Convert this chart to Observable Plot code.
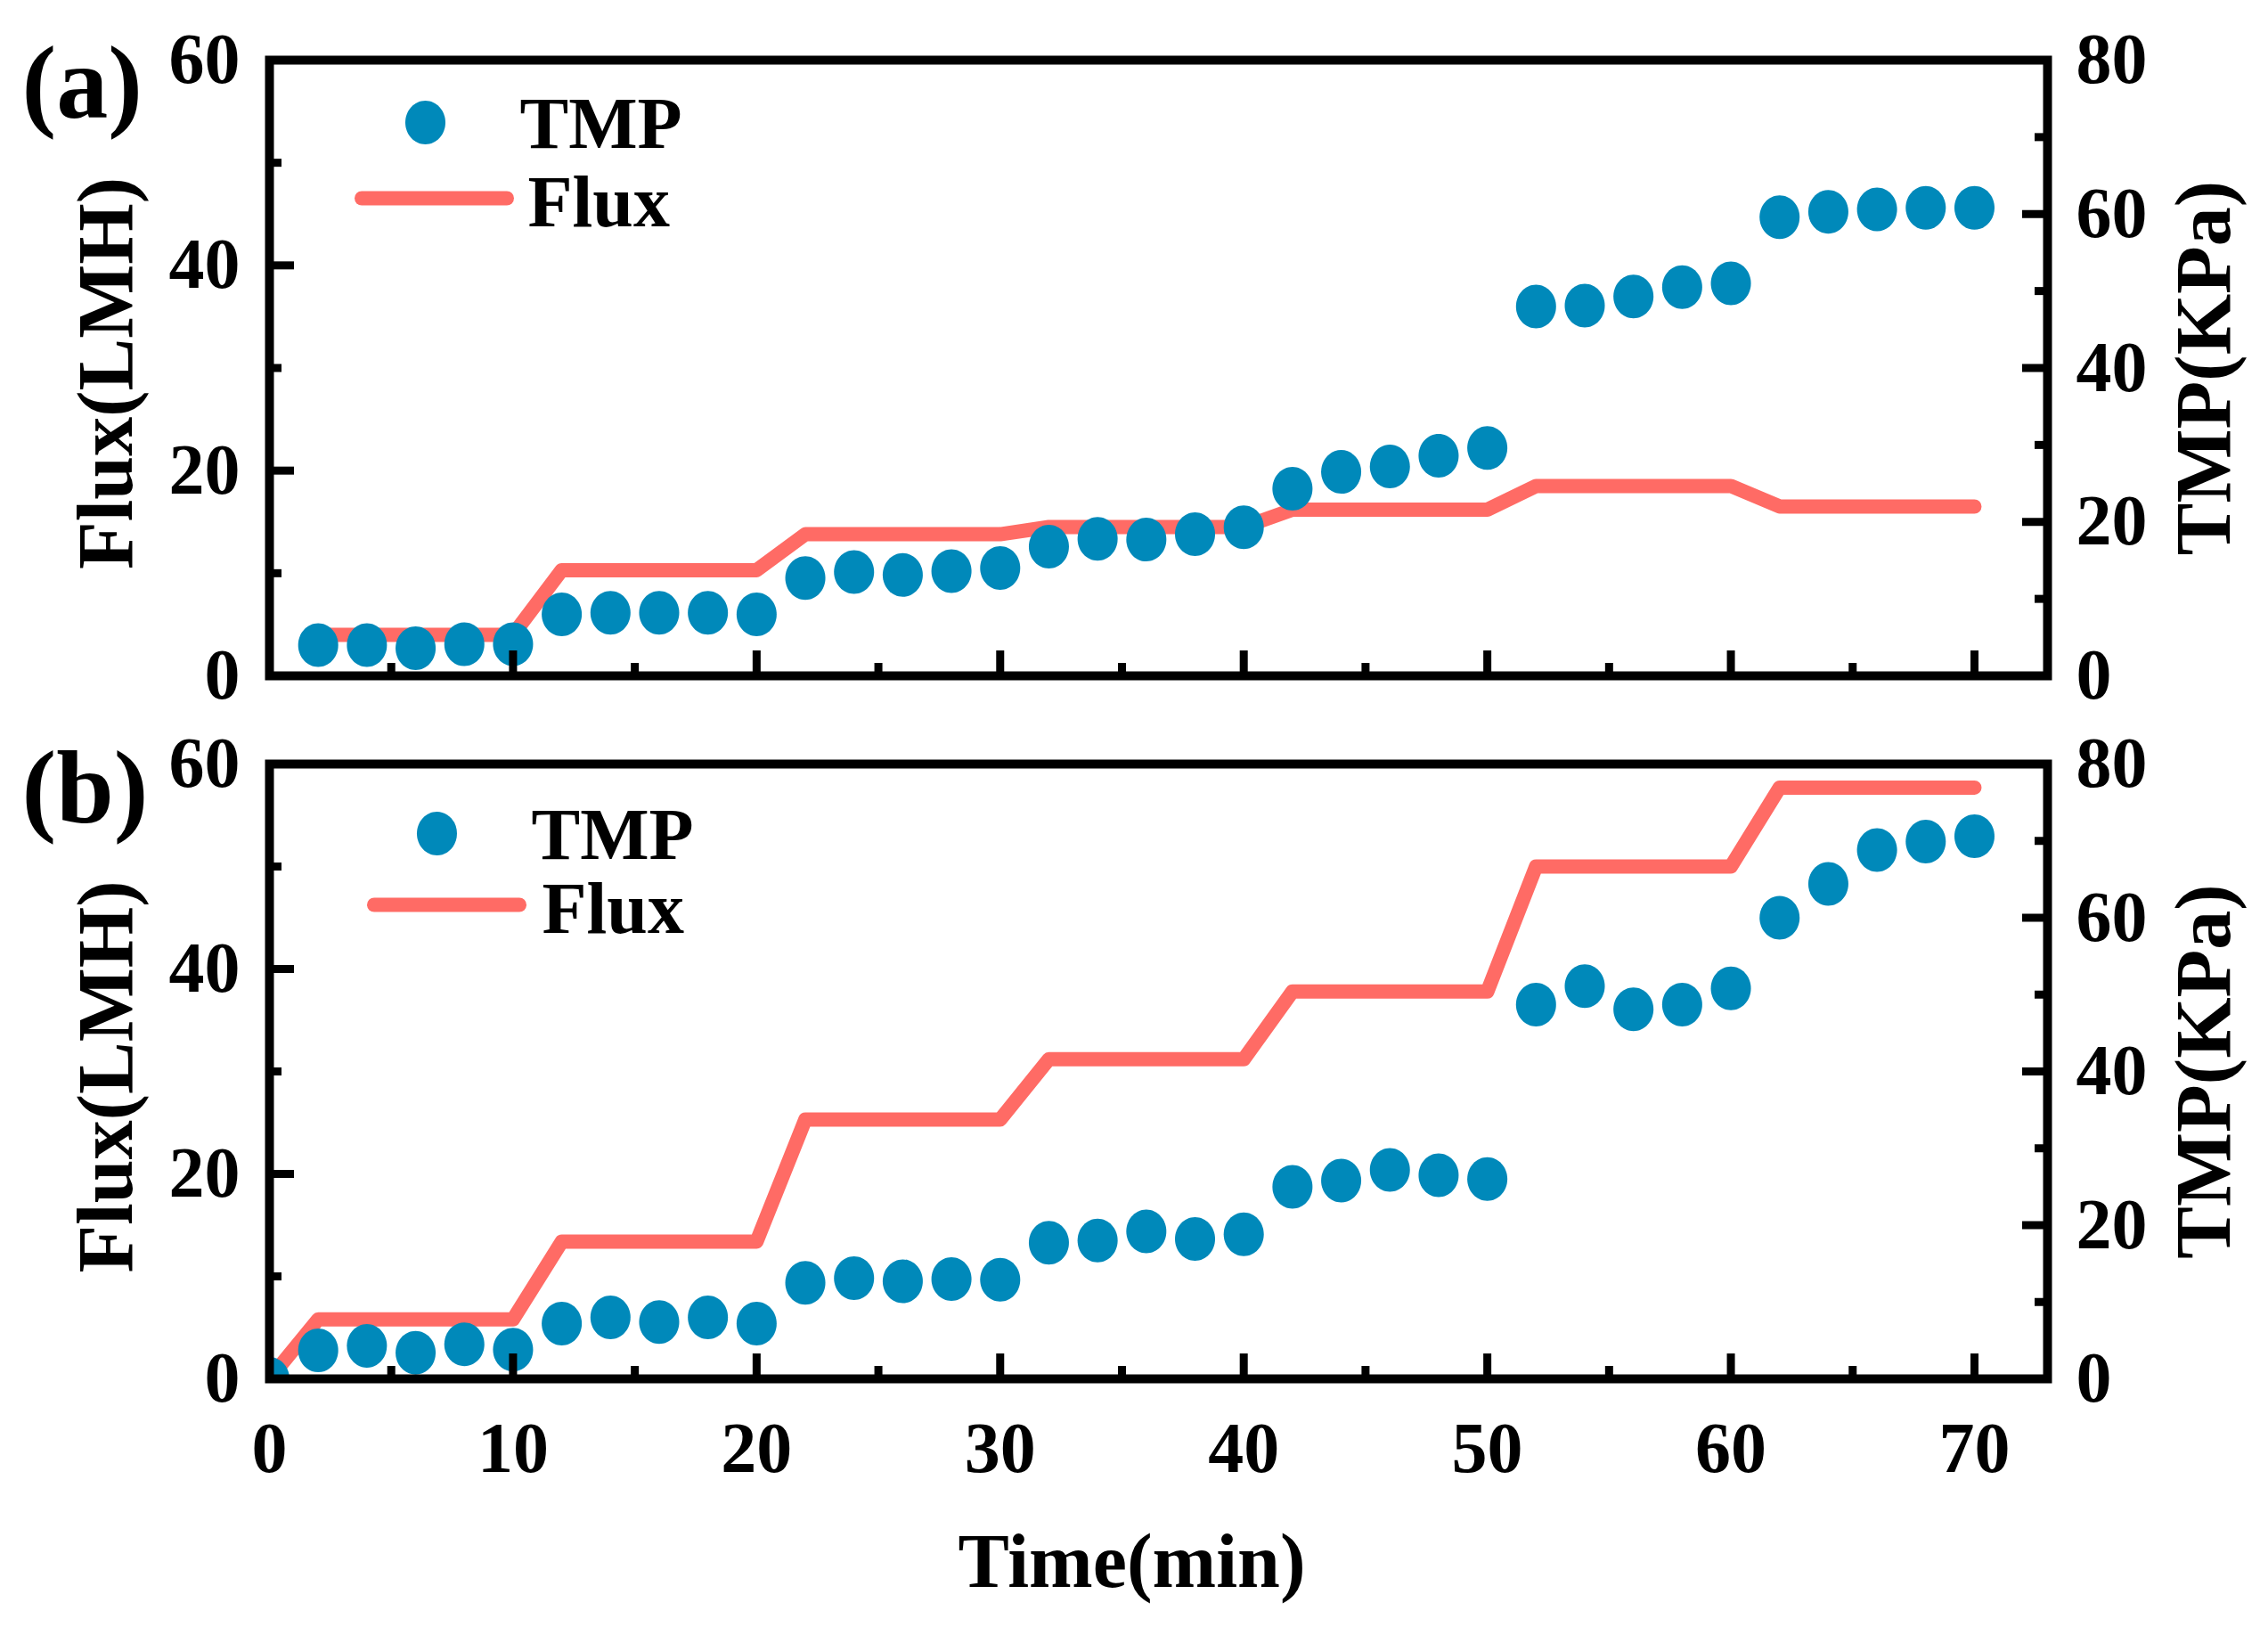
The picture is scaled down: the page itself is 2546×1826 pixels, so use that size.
<!DOCTYPE html>
<html>
<head>
<meta charset="utf-8">
<script src="https://cdn.jsdelivr.net/npm/d3@7"></script>
<script src="https://cdn.jsdelivr.net/npm/@observablehq/plot@0.6"></script>
<style>
  html, body { margin: 0; padding: 0; background: #ffffff; }
  #chart { width: 2546px; height: 1826px; }
</style>
</head>
<body>
<div id="chart"></div>
<script>
// ---------------- data ----------------
const timeA = [2,4,6,8,10,12,14,16,18,20,22,24,26,28,30,32,34,36,38,40,42,44,46,48,50,52,54,56,58,60,62,64,66,68,70];
const fluxA = [4.0,4.0,4.0,4.0,4.0, 10.3,10.3,10.3,10.3,10.3, 13.8,13.8,13.8,13.8,13.8, 14.5,14.5,14.5,14.5,14.5, 16.2,16.2,16.2,16.2,16.2, 18.5,18.5,18.5,18.5,18.5, 16.5,16.5,16.5,16.5,16.5];
const tmpA  = [4.0,4.0,3.6,4.1,4.1, 8.0,8.2,8.2,8.2,8.0, 12.7,13.5,13.1,13.6,14.0, 16.8,17.8,17.7,18.4,19.3, 24.3,26.5,27.2,28.6,29.6, 48.0,48.1,49.3,50.5,51.0, 59.6,60.3,60.6,60.8,60.8];

const timeB = [0,2,4,6,8,10,12,14,16,18,20,22,24,26,28,30,32,34,36,38,40,42,44,46,48,50,52,54,56,58,60,62,64,66,68,70];
const fluxB = [0, 5.8,5.8,5.8,5.8,5.8, 13.4,13.4,13.4,13.4,13.4, 25.3,25.3,25.3,25.3,25.3, 31.2,31.2,31.2,31.2,31.2, 37.8,37.8,37.8,37.8,37.8, 50.0,50.0,50.0,50.0,50.0, 57.7,57.7,57.7,57.7,57.7];
const tmpB  = [0, 3.7,4.3,3.4,4.5,3.8, 7.2,8.0,7.4,8.0,7.2, 12.5,13.1,12.7,13.0,12.9, 17.7,18.0,19.2,18.2,18.8, 25.0,25.8,27.2,26.5,26.0, 48.7,51.1,48.1,48.7,50.8, 60.0,64.4,68.8,69.9,70.6];

const xMajor = [0,10,20,30,40,50,60,70];
const xMinor = [5,15,25,35,45,55,65];
const fluxMajor = [0,20,40,60];
const fluxMinor = [10,30,50];
const tmpMajor = [0,20,40,60,80];
const tmpMinor = [10,30,50,70];

const xLabel = "Time(min)";
const fluxLabel = "Flux(LMH)";
const tmpLabel = "TMP(KPa)";
const seriesNames = ["TMP", "Flux"];

// ---------------- styling ----------------
const BLUE = "#0089BA";
const RED = "#FF6B65";
const K = 60 / 80; // TMP (0-80) -> Flux axis (0-60)
const W = 2546, ML = 302, MR = 248;
const FW = W - ML - MR;

const hline = (len) => ({
  draw(ctx) { ctx.moveTo(-len / 2, 0); ctx.lineTo(len / 2, 0); }
});
const ellipse = (rx, ry) => ({
  draw(ctx) {
    const k = 0.5523;
    ctx.moveTo(rx, 0);
    ctx.bezierCurveTo(rx, ry * k, rx * k, ry, 0, ry);
    ctx.bezierCurveTo(-rx * k, ry, -rx, ry * k, -rx, 0);
    ctx.bezierCurveTo(-rx, -ry * k, -rx * k, -ry, 0, -ry);
    ctx.bezierCurveTo(rx * k, -ry, rx, -ry * k, rx, 0);
    ctx.closePath();
  }
});
const DOT = ellipse(22.5, 24.5);

function panel({time, flux, tmp, height, marginTop, marginBottom, tag, tagDy, leg, showX}) {
  const FH = height - marginTop - marginBottom;
  const marks = [
    Plot.line(flux, {x: time, y: flux, stroke: RED, strokeWidth: 16,
      strokeLinecap: "round", strokeLinejoin: "round", clip: true}),
    Plot.dot(tmp, {x: time, y: tmp.map(v => v * K), symbol: DOT, fill: BLUE, stroke: "none", clip: true}),
    // inward ticks
    Plot.tickX(xMajor, {x: d => d, insetTop: FH - 28, stroke: "black", strokeWidth: 9}),
    Plot.tickX(xMinor, {x: d => d, insetTop: FH - 14, stroke: "black", strokeWidth: 9}),
    Plot.tickY(fluxMajor, {y: d => d, insetRight: FW - 28, stroke: "black", strokeWidth: 9}),
    Plot.tickY(fluxMinor, {y: d => d, insetRight: FW - 14, stroke: "black", strokeWidth: 9}),
    Plot.tickY(tmpMajor.map(v => v * K), {y: d => d, insetLeft: FW - 28, stroke: "black", strokeWidth: 9}),
    Plot.tickY(tmpMinor.map(v => v * K), {y: d => d, insetLeft: FW - 14, stroke: "black", strokeWidth: 9}),
    Plot.frame({stroke: "black", strokeWidth: 10}),
    // axes labels
    Plot.axisY(fluxMajor, {anchor: "left", tickSize: 0, tickPadding: 33, fontSize: 80, label: null}),
    Plot.axisY(tmpMajor.map(v => v * K), {anchor: "right", tickSize: 0, tickPadding: 32, fontSize: 80,
      label: null, tickFormat: d => String(Math.round(d / K))}),
    Plot.text([fluxLabel], {frameAnchor: "left", dx: -183, dy: 6, rotate: -90, textAnchor: "middle", lineAnchor: "middle", fontSize: 88}),
    Plot.text([tmpLabel], {frameAnchor: "right", dx: 176, rotate: -90, textAnchor: "middle", lineAnchor: "middle", fontSize: 88}),
    // panel tag
    Plot.text([tag], {frameAnchor: "top-left", dx: -278, dy: tagDy, textAnchor: "start", lineAnchor: "middle", fontSize: 116}),
    // legend
    Plot.dot([seriesNames[0]], {frameAnchor: "top-left", dx: leg.dotDx, dy: leg.dotDy, symbol: DOT, fill: BLUE, stroke: "none"}),
    Plot.text([seriesNames[0]], {frameAnchor: "top-left", dx: leg.tmpDx, dy: leg.tmpDy, textAnchor: "start", lineAnchor: "middle", fontSize: 82}),
    Plot.dot([seriesNames[1]], {frameAnchor: "top-left", dx: leg.lineDx, dy: leg.lineDy, symbol: hline(163),
      fill: "none", stroke: RED, strokeWidth: 16, strokeLinecap: "round"}),
    Plot.text([seriesNames[1]], {frameAnchor: "top-left", dx: leg.fluxDx, dy: leg.fluxDy, textAnchor: "start", lineAnchor: "middle", fontSize: 82})
  ];
  if (showX) {
    marks.push(Plot.axisX(xMajor, {anchor: "bottom", tickSize: 0, tickPadding: 48, fontSize: 80, label: null}));
    marks.push(Plot.text([xLabel], {frameAnchor: "bottom", dx: -30, dy: 206, textAnchor: "middle", lineAnchor: "middle", fontSize: 86}));
  }
  return Plot.plot({
    width: W,
    height,
    marginLeft: ML,
    marginRight: MR,
    marginTop,
    marginBottom,
    style: {fontFamily: '"Liberation Serif", "Times New Roman", serif', fontWeight: "bold", background: "white", overflow: "visible"},
    x: {domain: [0, 73], axis: null},
    y: {domain: [0, 60], axis: null},
    marks
  });
}

const chart = document.getElementById("chart");
chart.append(panel({
  time: timeA, flux: fluxA, tmp: tmpA,
  height: 800, marginTop: 67, marginBottom: 42,
  tag: "(a)", tagDy: 27, showX: false,
  leg: {dotDx: 175, dotDy: 70, tmpDx: 281, tmpDy: 72, lineDx: 185, lineDy: 155, fluxDx: 290, fluxDy: 160}
}));
chart.append(panel({
  time: timeB, flux: fluxB, tmp: tmpB,
  height: 1026, marginTop: 57, marginBottom: 279,
  tag: "(b)", tagDy: 28, showX: true,
  leg: {dotDx: 188, dotDy: 78, tmpDx: 294, tmpDy: 80, lineDx: 199, lineDy: 158, fluxDx: 306, fluxDy: 163}
}));
</script>
</body>
</html>
